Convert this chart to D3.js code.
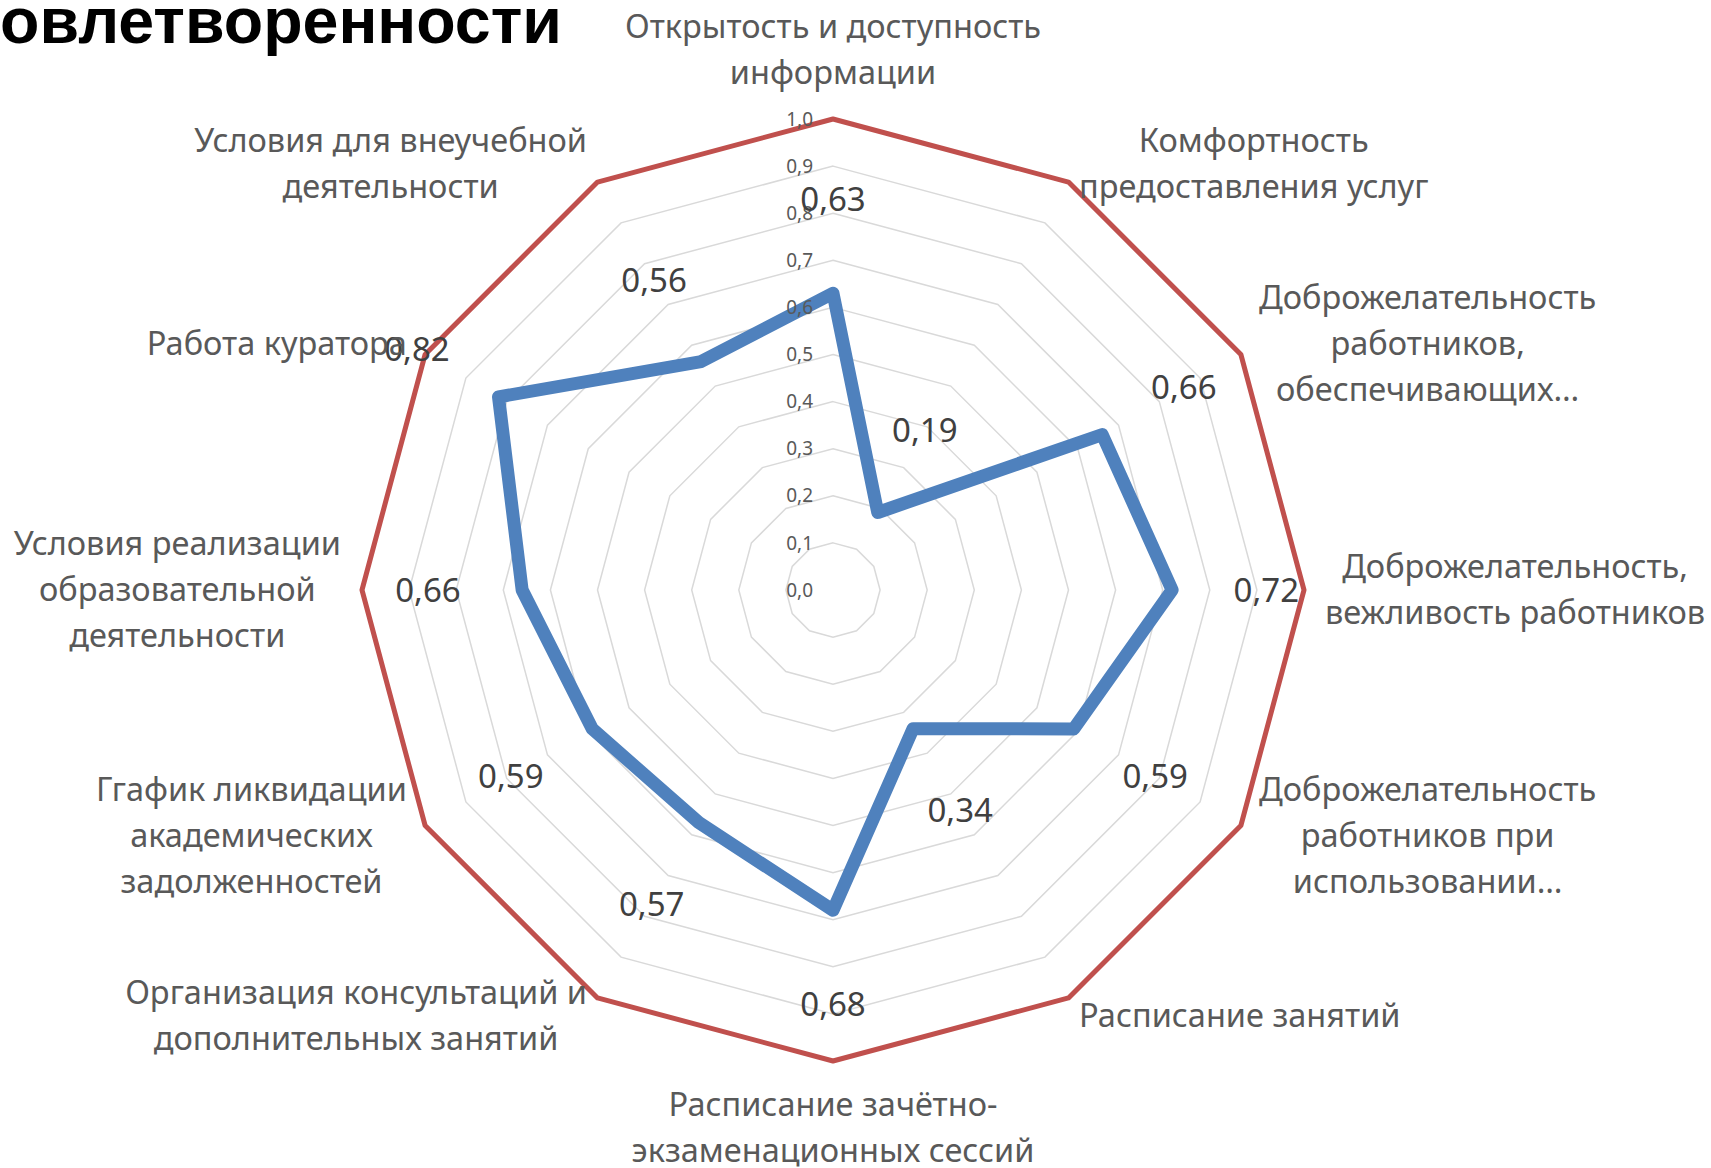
<!DOCTYPE html>
<html>
<head>
<meta charset="utf-8">
<script src="https://cdn.jsdelivr.net/npm/d3@7"></script>
<style>
  body { margin: 0; background: #fff; }
  svg { display: block; }
</style>
</head>
<body>
<svg id="chart" width="1711" height="1168"></svg>
<script>
// values
var categories = [
    "Открытость и доступность\nинформации",
    "Комфортность\nпредоставления услуг",
    "Доброжелательность\nработников,\nобеспечивающих…",
    "Доброжелательность,\nвежливость работников",
    "Доброжелательность\nработников при\nиспользовании…",
    "Расписание занятий",
    "Расписание зачётно-\nэкзаменационных сессий",
    "Организация консультаций и\nдополнительных занятий",
    "Ггафик ликвидации\nакадемических\nзадолженностей",
    "Условия реализации\nобразовательной\nдеятельности",
    "Работа куратора",
    "Условия для внеучебной\nдеятельности"
]
var satisfaction = [0.63, 0.19, 0.66, 0.72, 0.59, 0.34, 0.68, 0.57, 0.59, 0.66, 0.82, 0.56]
var maximum = [1, 1, 1, 1, 1, 1, 1, 1, 1, 1, 1, 1]
var tickValues = [0, 0.1, 0.2, 0.3, 0.4, 0.5, 0.6, 0.7, 0.8, 0.9, 1.0]
var titleText = "овлетворенности"

var width = 1711, height = 1168
var cx = 833, cy = 590, radius = 471
var n = categories.length

var ru = d3.formatLocale({ decimal: ",", thousands: " ", grouping: [3], currency: ["", ""] })
var fmt1 = ru.format(".1f")
var fmt2 = ru.format(".2f")

var r = d3.scaleLinear().domain([0, 1]).range([0, radius])
var angle = function (i) { return i * 2 * Math.PI / n }

var svg = d3.select("#chart")
svg.append("rect").attr("width", width).attr("height", height).attr("fill", "#fff")

var g = svg.append("g").attr("transform", "translate(" + cx + "," + cy + ")")

var ring = d3.lineRadial()
    .angle(function (d, i) { return angle(i) })
    .radius(function (d) { return r(d) })
    .curve(d3.curveLinearClosed)

// grid rings (1.0 ring is covered by the red series)
g.selectAll(".gridring")
    .data(tickValues.filter(function (t) { return t > 0 }))
    .enter().append("path")
    .attr("class", "gridring")
    .attr("fill", "none")
    .attr("stroke", "#d9d9d9")
    .attr("stroke-width", 1.5)
    .attr("d", function (t) { return ring(categories.map(function () { return t })) })

// series
g.append("path")
    .attr("fill", "none")
    .attr("stroke", "#c0504d")
    .attr("stroke-width", 5)
    .attr("stroke-linejoin", "round")
    .attr("d", ring(maximum))

g.append("path")
    .attr("fill", "none")
    .attr("stroke", "#4f81bd")
    .attr("stroke-width", 13)
    .attr("stroke-linejoin", "round")
    .attr("d", ring(satisfaction))

// tick labels along the vertical axis
g.selectAll(".tick")
    .data(tickValues)
    .enter().append("text")
    .attr("class", "tick")
    .attr("x", -20)
    .attr("y", function (t) { return -r(t) })
    .attr("dy", "0.35em")
    .attr("text-anchor", "end")
    .style("font-family", "'Noto Sans', sans-serif")
    .style("font-size", "19px")
    .attr("fill", "#595959")
    .text(function (t) { return fmt1(t) })

// data labels, pushed outward along each spoke
g.selectAll(".vlabel")
    .data(satisfaction)
    .enter().append("text")
    .attr("class", "vlabel")
    .attr("x", function (d, i) { return Math.sin(angle(i)) * r(d + 0.2) })
    .attr("y", function (d, i) { return -Math.cos(angle(i)) * r(d + 0.2) })
    .attr("dy", "0.35em")
    .attr("text-anchor", "middle")
    .style("font-family", "'Noto Sans', sans-serif")
    .style("font-size", "33px")
    .attr("fill", "#404040")
    .text(function (d) { return fmt2(d) })

// category labels, placed like Excel does: next to the outer vertex
var gap = 21, lineH = 46
categories.forEach(function (label, i) {
    var lines = label.split("\n")
    var a = angle(i)
    var sx = Math.sin(a), cyA = -Math.cos(a)
    var px = sx * (r(1) + gap), py = cyA * (r(1) + gap)

    var t = g.append("text")
        .attr("text-anchor", "middle")
        .style("font-family", "'Noto Sans', sans-serif")
        .style("font-size", "32.5px")
        .attr("fill", "#595959")
    var spans = lines.map(function (ln) {
        return t.append("tspan").text(ln)
    })
    var w = d3.max(spans, function (s) { return s.node().getComputedTextLength() })
    var boxH = lines.length * lineH

    var bx, by
    if (Math.abs(sx) < 0.01) {
        bx = px
        by = cyA < 0 ? py - boxH - 2 : py
    } else {
        bx = sx > 0 ? px + w / 2 : px - w / 2
        by = py - boxH / 2
    }
    spans.forEach(function (s, k) {
        s.attr("x", bx).attr("y", by + lineH * (k + 0.5)).attr("dy", "0.35em")
    })
})

// title, cut off at the left edge like the source slide
svg.append("text")
    .attr("x", 0)
    .attr("y", 43)
    .style("font-family", "'Liberation Sans', Arial, sans-serif")
    .style("font-weight", "bold")
    .style("font-size", "64.5px")
    .attr("fill", "#000")
    .text(titleText)
</script>
</body>
</html>
